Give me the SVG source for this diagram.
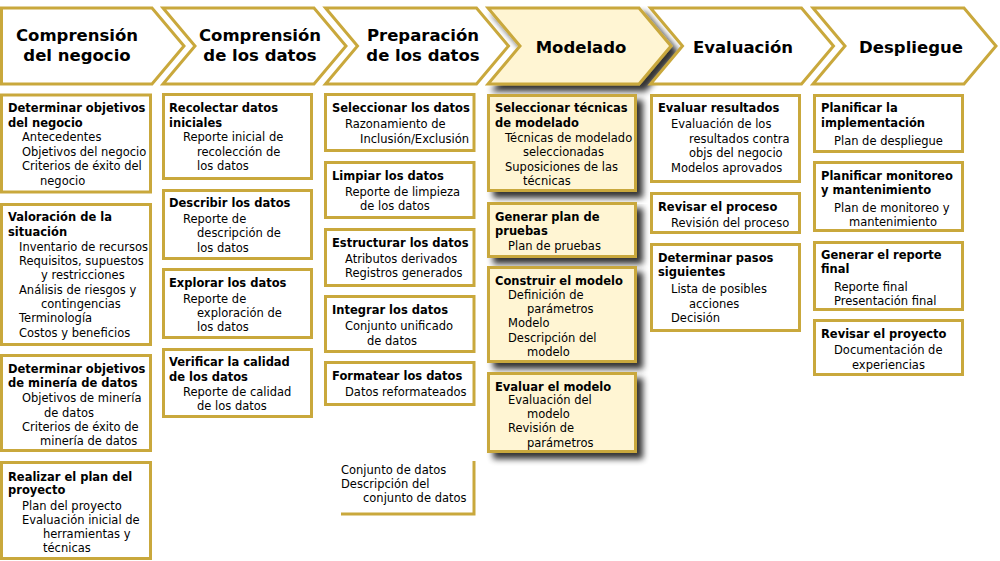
<svg xmlns="http://www.w3.org/2000/svg" width="1000" height="561" viewBox="0 0 1000 561">
<style>
.ch{fill:#ffffff;stroke:#c9a83c;stroke-width:3;stroke-linejoin:miter}
.bx{fill:#ffffff;stroke:#c9a83c;stroke-width:3}
.hl{fill:#fff5d3}
.h{font-family:"DejaVu Sans",sans-serif;font-weight:bold;font-size:16.5px;fill:#000;text-anchor:middle}
.t{font-family:"DejaVu Sans",sans-serif;font-weight:bold;font-size:11.5px;fill:#000}
.i{font-family:"DejaVu Sans",sans-serif;font-size:11.5px;fill:#000}
.br{fill:none;stroke:#c9a83c;stroke-width:3}
</style>
<defs>
<filter id="sh" x="-10%" y="-10%" width="130%" height="140%">
<feGaussianBlur in="SourceAlpha" stdDeviation="3"/>
<feOffset dx="6" dy="6" result="b"/>
<feComponentTransfer><feFuncA type="linear" slope="0.8"/></feComponentTransfer>
<feMerge><feMergeNode/><feMergeNode in="SourceGraphic"/></feMerge>
</filter>
</defs>
<rect width="1000" height="561" fill="#ffffff"/>

<!-- Column 1 -->
<g id="phase-negocio">
<polygon class="ch" points="1.5,8 152,8 184,46 152,84 1.5,84"/>
<text class="h" x="77" y="41">Comprensión</text>
<text class="h" x="77" y="61">del negocio</text>
</g>
<g id="n1-1">
<rect class="bx" x="1.5" y="95" width="149" height="97"/>
<text class="t" x="8" y="112">Determinar objetivos</text>
<text class="t" x="8" y="127">del negocio</text>
<text class="i" x="22" y="141">Antecedentes</text>
<text class="i" x="22" y="156">Objetivos del negocio</text>
<text class="i" x="22" y="170">Criterios de éxito del</text>
<text class="i" x="40" y="185">negocio</text>
</g>
<g id="n1-2">
<rect class="bx" x="1.5" y="204.5" width="149" height="140"/>
<text class="t" x="8" y="221">Valoración de la</text>
<text class="t" x="8" y="236">situación</text>
<text class="i" x="19" y="251">Inventario de recursos</text>
<text class="i" x="19" y="265">Requisitos, supuestos</text>
<text class="i" x="41" y="279">y restricciones</text>
<text class="i" x="19" y="294">Análisis de riesgos y</text>
<text class="i" x="41" y="308">contingencias</text>
<text class="i" x="19" y="322">Terminología</text>
<text class="i" x="19" y="337">Costos y beneficios</text>
</g>
<g id="n1-3">
<rect class="bx" x="1.5" y="355.5" width="149" height="95"/>
<text class="t" x="8" y="373">Determinar objetivos</text>
<text class="t" x="8" y="387">de minería de datos</text>
<text class="i" x="22" y="402">Objetivos de minería</text>
<text class="i" x="44" y="417">de datos</text>
<text class="i" x="22" y="431">Criterios de éxito de</text>
<text class="i" x="40" y="445">minería de datos</text>
</g>
<g id="n1-4">
<rect class="bx" x="1.5" y="462.5" width="149" height="96"/>
<text class="t" x="8" y="481">Realizar el plan del</text>
<text class="t" x="8" y="494">proyecto</text>
<text class="i" x="22" y="510">Plan del proyecto</text>
<text class="i" x="22" y="524">Evaluación inicial de</text>
<text class="i" x="43" y="538">herramientas y</text>
<text class="i" x="43" y="552">técnicas</text>
</g>

<!-- Column 2 -->
<g id="phase-datos">
<polygon class="ch" points="163,8 314,8 346,46 314,84 163,84 195,46"/>
<text class="h" x="260" y="41">Comprensión</text>
<text class="h" x="260" y="61">de los datos</text>
</g>
<g id="n2-1">
<rect class="bx" x="163.5" y="94.5" width="148" height="84"/>
<text class="t" x="169" y="112">Recolectar datos</text>
<text class="t" x="169" y="127">iniciales</text>
<text class="i" x="183" y="141">Reporte inicial de</text>
<text class="i" x="197" y="156">recolección de</text>
<text class="i" x="197" y="170">los datos</text>
</g>
<g id="n2-2">
<rect class="bx" x="163.5" y="190.5" width="148" height="68"/>
<text class="t" x="169" y="207">Describir los datos</text>
<text class="i" x="183" y="223">Reporte de</text>
<text class="i" x="197" y="237">descripción de</text>
<text class="i" x="197" y="252">los datos</text>
</g>
<g id="n2-3">
<rect class="bx" x="163.5" y="269.5" width="148" height="68"/>
<text class="t" x="169" y="287">Explorar los datos</text>
<text class="i" x="183" y="303">Reporte de</text>
<text class="i" x="197" y="317">exploración de</text>
<text class="i" x="197" y="331">los datos</text>
</g>
<g id="n2-4">
<rect class="bx" x="163.5" y="349.5" width="148" height="67"/>
<text class="t" x="169" y="366">Verificar la calidad</text>
<text class="t" x="169" y="381">de los datos</text>
<text class="i" x="183" y="396">Reporte de calidad</text>
<text class="i" x="197" y="410">de los datos</text>
</g>

<!-- Column 3 -->
<g id="phase-preparacion">
<polygon class="ch" points="325.5,8 476.5,8 508.5,46 476.5,84 325.5,84 357.5,46"/>
<text class="h" x="423" y="41">Preparación</text>
<text class="h" x="423" y="61">de los datos</text>
</g>
<g id="n3-1">
<rect class="bx" x="325.5" y="94.5" width="148.5" height="56"/>
<text class="t" x="332" y="112">Seleccionar los datos</text>
<text class="i" x="345" y="128">Razonamiento de</text>
<text class="i" x="360" y="143">Inclusión/Exclusión</text>
</g>
<g id="n3-2">
<rect class="bx" x="325.5" y="162.5" width="148.5" height="55"/>
<text class="t" x="332" y="180">Limpiar los datos</text>
<text class="i" x="345" y="196">Reporte de limpieza</text>
<text class="i" x="360" y="210">de los datos</text>
</g>
<g id="n3-3">
<rect class="bx" x="325.5" y="229.5" width="148.5" height="56"/>
<text class="t" x="332" y="247">Estructurar los datos</text>
<text class="i" x="345" y="263">Atributos derivados</text>
<text class="i" x="345" y="277">Registros generados</text>
</g>
<g id="n3-4">
<rect class="bx" x="325.5" y="296.5" width="148.5" height="55"/>
<text class="t" x="332" y="314">Integrar los datos</text>
<text class="i" x="345" y="330">Conjunto unificado</text>
<text class="i" x="367" y="345">de datos</text>
</g>
<g id="n3-5">
<rect class="bx" x="325.5" y="362.5" width="148.5" height="42"/>
<text class="t" x="332" y="380">Formatear los datos</text>
<text class="i" x="345" y="396">Datos reformateados</text>
</g>
<g id="n3-6">
<path class="br" d="M341,514 H474 V461"/>
<text class="i" x="341" y="474">Conjunto de datos</text>
<text class="i" x="341" y="488">Descripción del</text>
<text class="i" x="363" y="502">conjunto de datos</text>
</g>

<!-- Column 4 (highlighted) -->
<g id="phase-modelado">
<polygon class="ch hl" filter="url(#sh)" points="488,8 639,8 671,46 639,84 488,84 520,46"/>
<text class="h" x="581" y="53">Modelado</text>
</g>
<g id="n4-1">
<rect class="bx hl" filter="url(#sh)" x="488.5" y="95.5" width="147" height="95"/>
<text class="t" x="495" y="112">Seleccionar técnicas</text>
<text class="t" x="495" y="127">de modelado</text>
<text class="i" x="505" y="142">Técnicas de modelado</text>
<text class="i" x="523" y="156">seleccionadas</text>
<text class="i" x="505" y="171">Suposiciones de las</text>
<text class="i" x="523" y="185">técnicas</text>
</g>
<g id="n4-2">
<rect class="bx hl" filter="url(#sh)" x="488.5" y="203.5" width="147" height="53"/>
<text class="t" x="495" y="221">Generar plan de</text>
<text class="t" x="495" y="235">pruebas</text>
<text class="i" x="508" y="250">Plan de pruebas</text>
</g>
<g id="n4-3">
<rect class="bx hl" filter="url(#sh)" x="488.5" y="267.5" width="147" height="94"/>
<text class="t" x="495" y="285">Construir el modelo</text>
<text class="i" x="508" y="299">Definición de</text>
<text class="i" x="527" y="313">parámetros</text>
<text class="i" x="508" y="327">Modelo</text>
<text class="i" x="508" y="342">Descripción del</text>
<text class="i" x="527" y="356">modelo</text>
</g>
<g id="n4-4">
<rect class="bx hl" filter="url(#sh)" x="488.5" y="373.5" width="147" height="78"/>
<text class="t" x="495" y="391">Evaluar el modelo</text>
<text class="i" x="508" y="404">Evaluación del</text>
<text class="i" x="527" y="418">modelo</text>
<text class="i" x="508" y="432">Revisión de</text>
<text class="i" x="527" y="447">parámetros</text>
</g>

<!-- Column 5 -->
<g id="phase-evaluacion">
<polygon class="ch" points="650.5,8 801.5,8 833.5,46 801.5,84 650.5,84 682.5,46"/>
<text class="h" x="743" y="53">Evaluación</text>
</g>
<g id="n5-1">
<rect class="bx" x="651.5" y="95.5" width="148" height="86"/>
<text class="t" x="658" y="112">Evaluar resultados</text>
<text class="i" x="671" y="128">Evaluación de los</text>
<text class="i" x="689" y="143">resultados contra</text>
<text class="i" x="689" y="157">objs del negocio</text>
<text class="i" x="671" y="172">Modelos aprovados</text>
</g>
<g id="n5-2">
<rect class="bx" x="651.5" y="193.5" width="148" height="39"/>
<text class="t" x="658" y="211">Revisar el proceso</text>
<text class="i" x="671" y="227">Revisión del proceso</text>
</g>
<g id="n5-3">
<rect class="bx" x="651.5" y="244.5" width="148" height="86"/>
<text class="t" x="658" y="262">Determinar pasos</text>
<text class="t" x="658" y="276">siguientes</text>
<text class="i" x="671" y="293">Lista de posibles</text>
<text class="i" x="689" y="308">acciones</text>
<text class="i" x="671" y="322">Decisión</text>
</g>

<!-- Column 6 -->
<g id="phase-despliegue">
<polygon class="ch" points="813,8 964,8 996,46 964,84 813,84 845,46"/>
<text class="h" x="911" y="53">Despliegue</text>
</g>
<g id="n6-1">
<rect class="bx" x="814.5" y="95.5" width="148" height="56"/>
<text class="t" x="821" y="112">Planificar la</text>
<text class="t" x="821" y="127">implementación</text>
<text class="i" x="834" y="145">Plan de despliegue</text>
</g>
<g id="n6-2">
<rect class="bx" x="814.5" y="162.5" width="148" height="68"/>
<text class="t" x="821" y="180">Planificar monitoreo</text>
<text class="t" x="821" y="194">y mantenimiento</text>
<text class="i" x="834" y="212">Plan de monitoreo y</text>
<text class="i" x="849" y="226">mantenimiento</text>
</g>
<g id="n6-3">
<rect class="bx" x="814.5" y="242.5" width="148" height="67"/>
<text class="t" x="821" y="259">Generar el reporte</text>
<text class="t" x="821" y="273">final</text>
<text class="i" x="834" y="291">Reporte final</text>
<text class="i" x="834" y="305">Presentación final</text>
</g>
<g id="n6-4">
<rect class="bx" x="814.5" y="320.5" width="148" height="54"/>
<text class="t" x="821" y="338">Revisar el proyecto</text>
<text class="i" x="834" y="354">Documentación de</text>
<text class="i" x="852" y="369">experiencias</text>
</g>
<g id="connectors"/>
</svg>
